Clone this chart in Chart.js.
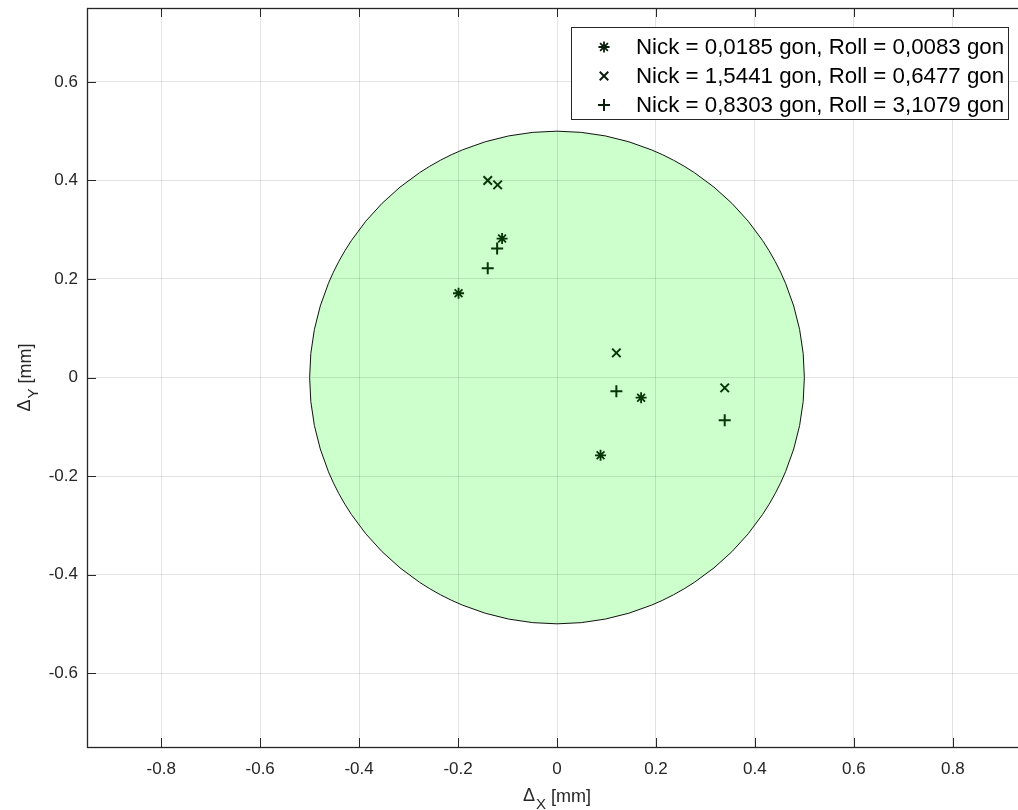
<!DOCTYPE html>
<html><head><meta charset="utf-8">
<script src="https://cdn.jsdelivr.net/npm/chart.js@4/dist/chart.umd.min.js"></script>
<style>
html,body{margin:0;padding:0;background:#fff;overflow:hidden;width:1018px;height:810px}
#wrap{width:1040px;height:810px;position:relative}
</style></head>
<body><div id="wrap"><canvas id="c" width="1040" height="810"></canvas></div>
<script>
const xTicks = [-0.8, -0.6, -0.4, -0.2, 0, 0.2, 0.4, 0.6, 0.8];
const yTicks = [-0.6, -0.4, -0.2, 0, 0.2, 0.4, 0.6];
const xRange = [-0.95, 0.95];
const yRange = [-0.75, 0.75];
const toleranceRadius = 0.5;
const seriesLabels = [
  'Nick = 0,0185 gon, Roll = 0,0083 gon',
  'Nick = 1,5441 gon, Roll = 0,6477 gon',
  'Nick = 0,8303 gon, Roll = 3,1079 gon'
];
const s1 = [{x:-0.199,y:0.171},{x:-0.111,y:0.282},{x:0.088,y:-0.158},{x:0.170,y:-0.041}];
const s2 = [{x:-0.140,y:0.400},{x:-0.120,y:0.391},{x:0.120,y:0.050},{x:0.339,y:-0.021}];
const s3 = [{x:-0.140,y:0.222},{x:-0.121,y:0.262},{x:0.120,y:-0.028},{x:0.339,y:-0.087}];

const FONT = "'Liberation Sans', Arial, Helvetica, sans-serif";
const AX = '#262626';
const MK = '#073507';

const styles = [
  {pointStyle:'star', radius:5.5, borderWidth:1.8},
  {pointStyle:'crossRot', radius:6, borderWidth:2},
  {pointStyle:'cross', radius:6, borderWidth:2}
];

const circlePlugin = {
  id:'circle',
  beforeDraw(chart){
    const {ctx, scales:{x, y}} = chart;
    const cx = x.getPixelForValue(0), cy = y.getPixelForValue(0);
    const rx = x.getPixelForValue(toleranceRadius) - cx;
    const ry = cy - y.getPixelForValue(toleranceRadius);
    ctx.save();
    ctx.beginPath();
    ctx.ellipse(cx, cy, rx, ry, 0, 0, Math.PI*2);
    ctx.fillStyle = '#ccffcc';
    ctx.fill();
    ctx.lineWidth = 1;
    ctx.strokeStyle = '#111';
    ctx.stroke();
    ctx.restore();
  }
};

function drawMarker(ctx, style, px, py){
  const r = style.radius;
  ctx.save();
  ctx.strokeStyle = '#0a1f0a';
  ctx.lineWidth = style.borderWidth;
  ctx.beginPath();
  const seg = (a) => { const dx=Math.cos(a)*r, dy=Math.sin(a)*r; ctx.moveTo(px-dx,py-dy); ctx.lineTo(px+dx,py+dy); };
  if (style.pointStyle === 'cross' || style.pointStyle === 'star') { seg(0); seg(Math.PI/2); }
  if (style.pointStyle === 'crossRot' || style.pointStyle === 'star') { seg(Math.PI/4); seg(3*Math.PI/4); }
  ctx.stroke();
  ctx.restore();
}

function drawAxisTitle(ctx, sub, x0, base){
  const bigF = '18px ' + FONT, subF = '15px ' + FONT;
  ctx.font = bigF; const wD = ctx.measureText('\u0394').width;
  ctx.font = subF; const wS = ctx.measureText(sub).width;
  ctx.font = bigF; const wM = ctx.measureText(' [mm]').width;
  const total = wD + wS + wM + 1;
  const sx = x0 - total/2;
  ctx.font = bigF; ctx.fillText('\u0394', sx, base);
  ctx.font = subF; ctx.fillText(sub, sx + wD + 1, base + 7.5);
  ctx.font = bigF; ctx.fillText(' [mm]', sx + wD + 1 + wS, base + 1);
}

const framePlugin = {
  id:'frame',
  afterDraw(chart){
    const {ctx, chartArea:a, scales:{x, y}} = chart;
    ctx.save();
    ctx.strokeStyle = AX; ctx.lineWidth = 1;
    ctx.beginPath();
    const TL = 9;
    xTicks.forEach(v => { const px = Math.round(x.getPixelForValue(v))+0.5;
      ctx.moveTo(px, a.bottom); ctx.lineTo(px, a.bottom-TL);
      ctx.moveTo(px, a.top); ctx.lineTo(px, a.top+TL); });
    yTicks.forEach(v => { const py = Math.round(y.getPixelForValue(v))+0.5;
      ctx.moveTo(a.left, py); ctx.lineTo(a.left+TL, py);
      ctx.moveTo(a.right, py); ctx.lineTo(a.right-TL, py); });
    ctx.stroke();
    ctx.lineWidth = 1.3;
    ctx.strokeRect(Math.round(a.left)+0.5, Math.round(a.top)+0.5, Math.round(a.right-a.left), Math.round(a.bottom-a.top));

    // axis titles
    ctx.fillStyle = AX;
    ctx.textBaseline = 'alphabetic';
    ctx.textAlign = 'left';
    drawAxisTitle(ctx, 'X', x.getPixelForValue(0), 801);
    ctx.save();
    ctx.translate(30, y.getPixelForValue(0));
    ctx.rotate(-Math.PI/2);
    drawAxisTitle(ctx, 'Y', 0, 0);
    ctx.restore();

    // legend
    const L = {x1:571, y1:27, x2:1008, y2:119};
    ctx.fillStyle = '#fff';
    ctx.fillRect(L.x1, L.y1, L.x2-L.x1, L.y2-L.y1);
    ctx.lineWidth = 1;
    ctx.strokeStyle = AX;
    ctx.strokeRect(L.x1+0.5, L.y1+0.5, L.x2-L.x1, L.y2-L.y1);
    ctx.font = '22.3px ' + FONT;
    ctx.fillStyle = '#000';
    ctx.textBaseline = 'middle';
    chart.data.datasets.forEach((ds, i) => {
      const ry = 47 + i*29;
      drawMarker(ctx, styles[i], 604, ry);
      ctx.fillText(ds.label, 636, ry+1);
    });
    ctx.restore();
  }
};

const datasets = [s1, s2, s3].map((d, i) => ({
  label: seriesLabels[i],
  data: d,
  showLine: false,
  pointStyle: styles[i].pointStyle,
  pointRadius: styles[i].radius,
  pointHoverRadius: styles[i].radius,
  pointBorderWidth: styles[i].borderWidth,
  borderColor: MK,
  backgroundColor: MK
}));

const tickFmt = v => (Math.abs(v) < 1e-9 ? '0' : v.toFixed(1));

new Chart(document.getElementById('c'), {
  type: 'scatter',
  data: { datasets },
  options: {
    responsive: false,
    devicePixelRatio: 1,
    animation: false,
    events: [],
    layout: { padding: { left: 0, right: 13, top: 6, bottom: 0 } },
    plugins: { legend: { display: false }, tooltip: { enabled: false } },
    scales: {
      x: {
        type: 'linear', min: xRange[0], max: xRange[1],
        afterBuildTicks: s => { s.ticks = xTicks.map(v => ({value: v})); },
        afterFit: s => { s.height = 63; s.paddingLeft = 0; s.paddingRight = 0; },
        grid: { color: 'rgba(38,38,38,0.13)', lineWidth: 1, drawTicks: false, tickLength: 0 },
        border: { display: false },
        ticks: { callback: tickFmt, color: AX, font: { family: FONT, size: 17 }, padding: 12, maxRotation: 0, autoSkip: false }
      },
      y: {
        type: 'linear', min: yRange[0], max: yRange[1],
        afterBuildTicks: s => { s.ticks = yTicks.map(v => ({value: v})); },
        afterFit: s => { s.width = 87; s.paddingTop = 0; s.paddingBottom = 0; },
        grid: { color: 'rgba(38,38,38,0.13)', lineWidth: 1, drawTicks: false, tickLength: 0 },
        border: { display: false },
        ticks: { callback: tickFmt, color: AX, font: { family: FONT, size: 17 }, padding: 9, autoSkip: false }
      }
    }
  },
  plugins: [circlePlugin, framePlugin]
});
</script>
</body></html>
